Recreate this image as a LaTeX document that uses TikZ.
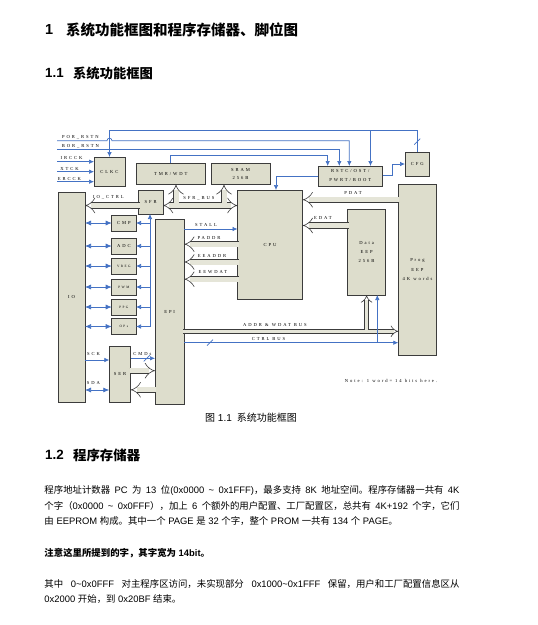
\documentclass[tikz,border=0pt]{standalone}
\usepackage{fontspec}
\setmainfont{Liberation Sans}
\newfontfamily\cjk{Noto Sans CJK SC}
\newfontfamily\dg[LetterSpace=42]{Liberation Serif}
\usetikzlibrary{arrows.meta}
\definecolor{boxfill}{RGB}{221,221,204}
\definecolor{busfill}{RGB}{229,229,216}
\definecolor{sigblue}{RGB}{68,114,196}
\definecolor{edge}{RGB}{60,60,60}
\newcommand\zh[1]{{\cjk #1}}
\begin{document}
\begin{tikzpicture}[x=1pt,y=-1pt,
  box/.style={draw=edge, line width=0.9pt, fill=boxfill, inner sep=0pt, outer sep=0pt, align=center, font=\dg\fontsize{4.6}{9}\selectfont},
  sbox/.style={box, font=\dg\fontsize{3.4}{4}\selectfont},
  lab/.style={inner sep=0pt, font=\dg\fontsize{4.6}{5}\selectfont},
  sig/.style={draw=sigblue, line width=0.7pt, -{Latex[length=5pt,width=4.5pt]}},
  sigboth/.style={draw=sigblue, line width=0.7pt, {Latex[length=6pt,width=5pt]}-{Latex[length=6pt,width=5pt]}},
  sigline/.style={draw=sigblue, line width=0.7pt},
  bus/.style={draw=edge, line width=0.6pt, double=busfill, double distance=5pt},
  thinbus/.style={draw=edge, line width=0.6pt, double=busfill, double distance=3.5pt},
  tip/.tip={Implies[scale=0.6]},
  txt/.style={inner sep=0pt, anchor=west}]
\useasboundingbox[fill=white] (0,0) rectangle (538,625);

% ---------- page text ----------
\node[txt, font=\fontsize{14.5}{16}\selectfont\bfseries] (h1n) at (45,30) {1};
\node[txt, font=\cjk\fontsize{14.5}{16}\selectfont\bfseries] (h1t) at (66,30) {系统功能框图和程序存储器、脚位图};
\node[txt, font=\fontsize{13.3}{15}\selectfont\bfseries] (h2n) at (45,73) {1.1};
\node[txt, font=\cjk\fontsize{13.3}{15}\selectfont\bfseries] (h2t) at (73,73) {系统功能框图};
\node[txt, font=\fontsize{10}{12}\selectfont] (cap) at (205,418) {\zh{图} 1.1\hspace{5pt}\zh{系统功能框图}};
\node[txt, font=\fontsize{13.4}{15}\selectfont\bfseries] (h3n) at (45,455) {1.2};
\node[txt, font=\cjk\fontsize{13.4}{15}\selectfont\bfseries] (h3t) at (73,455) {程序存储器};
\node[txt, font=\fontsize{9.4}{11}\selectfont] (p1) at (44.3,490) {\makebox[415pt][s]{\zh{程序地址计数器} PC \zh{为} 13 \zh{位}(0x0000 \textasciitilde{} 0x1FFF)\zh{，最多支持} 8K \zh{地址空间。程序存储器一共有} 4K}};
\node[txt, font=\fontsize{9.4}{11}\selectfont] (p2) at (44.3,506) {\makebox[415pt][s]{\zh{个字（}0x0000 \textasciitilde{} 0x0FFF\zh{），加上} 6 \zh{个额外的用户配置、工厂配置区，总共有} 4K+192 \zh{个字，它们}}};
\node[txt, font=\fontsize{9.4}{11}\selectfont] (p3) at (44.3,521) {\zh{由} EEPROM \zh{构成。其中一个} PAGE \zh{是} 32 \zh{个字，整个} PROM \zh{一共有} 134 \zh{个} PAGE\zh{。}};
\node[txt, font=\fontsize{9.4}{11}\selectfont\bfseries] (p4) at (44.3,553) {\zh{注意这里所提到的字，其字宽为} 14bit\zh{。}};
\node[txt, font=\fontsize{9.4}{11}\selectfont] (p5) at (44.3,584) {\makebox[415pt][s]{\zh{其中} 0\textasciitilde{}0x0FFF \zh{对主程序区访问，未实现部分} 0x1000\textasciitilde{}0x1FFF \zh{保留，用户和工厂配置信息区从}}};
\node[txt, font=\fontsize{9.4}{11}\selectfont] (p6) at (44.3,599.5) {0x2000 \zh{开始，到} 0x20BF \zh{结束。}};

% ---------- boxes ----------
\node[box, minimum width=31pt, minimum height=29pt] (CLKC) at (109.5,171.5) {CLKC};
\node[box, minimum width=69.7pt, minimum height=21pt] (TMR) at (170.85,173.8) {TMR/WDT};
\node[box, minimum width=59pt, minimum height=21pt, font=\dg\fontsize{4.6}{8}\selectfont] (SRAM) at (240.5,173.8) {SRAM\\256B};
\node[box, minimum width=64.5pt, minimum height=20pt] (RSTC) at (350.25,176) {RSTC/OST/\\PWRT/BOOT};
\node[box, minimum width=24.5pt, minimum height=24pt] (CFG) at (417.25,164) {CFG};
\node[box, minimum width=24.5pt, minimum height=24pt] (SFR) at (150.75,202) {SFR};
\node[box, minimum width=27pt, minimum height=210pt] (IO) at (71.5,297) {IO};
\node[box, minimum width=65.2pt, minimum height=109.3pt] (CPU) at (270.1,244.65) {CPU};
\node[box, minimum width=38.4pt, minimum height=171.7pt, font=\dg\fontsize{4.6}{9.5}\selectfont] (Prog) at (417.5,269.85) {Prog\\EEP\\4K words};
\node[box, minimum width=38.2pt, minimum height=85.7pt, font=\dg\fontsize{4.6}{8.8}\selectfont] (Data) at (366.6,252.15) {Data\\EEP\\256B};
\node[box, minimum width=29.3pt, minimum height=184.7pt] (EPI) at (169.65,311.65) {EPI};
\node[box, minimum width=24.3pt, minimum height=16pt] (CMP) at (123.85,223) {CMP};
\node[box, minimum width=24.3pt, minimum height=16pt] (ADC) at (123.85,246) {ADC};
\node[sbox, minimum width=24.3pt, minimum height=16pt] (VREG) at (123.85,266) {VREG};
\node[sbox, minimum width=24.3pt, minimum height=16pt] (PWM) at (123.85,287) {PWM};
\node[sbox, minimum width=24.3pt, minimum height=16pt] (PPG) at (123.85,307) {PPG};
\node[sbox, minimum width=24.3pt, minimum height=16pt] (OPs) at (123.85,326.5) {OPs};
\node[box, minimum width=21.4pt, minimum height=56.3pt] (SER) at (120,374.15) {SER};

% ---------- labels ----------
\node[lab] (lPOR) at (80.5,137) {POR\_RSTN};
\node[lab] (lBOR) at (80.5,146.3) {BOR\_RSTN};
\node[lab] (lIR) at (71.5,158) {IRCCK};
\node[lab] (lXT) at (69.5,168.5) {XTCK};
\node[lab] (lER) at (69.5,179) {ERCCK};
\node[lab] (lIOC) at (108.5,197.5) {IO\_CTRL};
\node[lab] (lSB) at (199,198) {SFR\_BUS};
\node[lab] (lPD) at (353,192.5) {PDAT};
\node[lab] (lED) at (323,217.5) {EDAT};
\node[lab] (lST) at (206,225) {STALL};
\node[lab] (lPA) at (209,238.3) {PADDR};
\node[lab] (lEA) at (212,256) {EEADDR};
\node[lab] (lEW) at (213,272) {EEWDAT};
\node[lab] (lSCK) at (93.5,353.5) {SCK};
\node[lab] (lSDA) at (93.5,383) {SDA};
\node[lab] (lCMD) at (142.5,353.5) {CMDs};
\node[lab] (lAD) at (275,325) {ADDR \& WDAT BUS};
\node[lab] (lCT) at (268.5,339) {CTRL BUS};
\node[lab] (lNote) at (391,381) {Note: 1 word= 14 bits here.};

% ---------- coordinates ----------
\coordinate (topY) at (0,130.7);
\coordinate (po1) at (57,140.7);
\coordinate (po2) at (349.3,140.7);
\coordinate (bo1) at (57,149.8);
\coordinate (bo2) at (339.3,149.8);
\coordinate (tm1) at (170,155);
\coordinate (tm2) at (327.7,155);
\coordinate (t4) at (370.5,130.7);
\coordinate (ir) at (57,161.7);
\coordinate (xt) at (57,171.7);
\coordinate (er) at (57,181.7);
\coordinate (rc1) at (392.7,175.5);
\coordinate (rp1) at (276,176);
\coordinate (ioc) at (0,205.5);
\coordinate (sb1) at (176,205.5);
\coordinate (sb2) at (224,205.5);
\coordinate (pd) at (0,199.7);
\coordinate (ed) at (0,225.5);
\coordinate (st) at (0,229);
\coordinate (pa) at (0,244.2);
\coordinate (ea) at (0,262);
\coordinate (ew) at (0,279.2);
\coordinate (vb) at (150,326.5);
\coordinate (sck) at (0,360);
\coordinate (sda) at (0,390);
\coordinate (cmd) at (0,358.3);
\coordinate (s1) at (0,370.7);
\coordinate (s2) at (0,389.8);
\coordinate (ad) at (0,331.3);
\coordinate (ct) at (0,342.7);
\coordinate (ctB) at (377.3,342.7);

% ---------- top control lines ----------
\draw[sig] (CFG.north) |- (CLKC.north|-topY) -- (CLKC.north);
\draw[sig] (t4) -- (t4|-RSTC.north);
\draw[sigline] (414.25,144.7) -- (420.25,138.7);
\draw[sig] (po1) -- (107,140.7) arc[start angle=180,end angle=360,radius=2.5] -- (po2) -- (po2|-RSTC.north);
\draw[sig] (bo1) -- (bo2) -- (bo2|-RSTC.north);
\draw[sig] (tm1|-TMR.north) -- (tm1) -- (tm2) -- (tm2|-RSTC.north);
\draw[sig] (ir) -- (ir-|CLKC.west);
\draw[sig] (xt) -- (xt-|CLKC.west);
\draw[sig] (er) -- (er-|CLKC.west);
\draw[sig] (RSTC.east|-rc1) -- (rc1) |- (CFG.west);
\draw[sig] (RSTC.west|-rp1) -- (rp1) -- (rp1|-CPU.north);

% ---------- buses ----------
\draw[bus, -tip, shorten <=-1pt] (SFR.west|-ioc) -- (IO.east|-ioc);
\draw[bus, -tip] (sb1) -- (sb1|-TMR.south);
\draw[bus, -tip] (sb2) -- (sb2|-SRAM.south);
\draw[bus, tip-tip] (SFR.east|-ioc) -- (CPU.west|-ioc);
\fill[busfill] (sb1) ++(-2.5,-3.4) rectangle ++(5,1.1);
\fill[busfill] (sb2) ++(-2.5,-3.4) rectangle ++(5,1.1);
\draw[bus, -tip, shorten <=-1pt] (Prog.west|-pd) -- (CPU.east|-pd);
\draw[bus, -tip, shorten <=-1pt] (Data.west|-ed) -- (CPU.east|-ed);
\draw[bus, -tip, shorten <=-1pt] (CPU.west|-pa) -- (EPI.east|-pa);
\draw[bus, -tip, shorten <=-1pt] (CPU.west|-ea) -- (EPI.east|-ea);
\draw[bus, -tip, shorten <=-1pt] (CPU.west|-ew) -- (EPI.east|-ew);
\draw[bus, -tip, shorten <=-1pt] (SER.east|-s1) -- (EPI.west|-s1);
\draw[bus, -tip, shorten <=-1pt] (EPI.west|-s2) -- (SER.east|-s2);
\draw[thinbus, -tip] (Data.south|-ad) -- (Data.south);
\draw[thinbus, -tip, shorten <=-1pt] (EPI.east|-ad) -- (Prog.west|-ad);
\fill[busfill] (Data.south|-ad) ++(-1.75,-2.6) rectangle ++(3.5,1.0);

% ---------- signals ----------
\draw[sig] (EPI.east|-st) -- (CPU.west|-st);
\draw[sig] (EPI.east|-ct) -- (Prog.west|-ct);
\draw[sigline] (207,345.7) -- (213,339.7);
\draw[sig] (ctB) -- (ctB|-Data.south);
\draw[sigboth] (IO.east|-CMP) -- (CMP.west);
\draw[sigboth] (IO.east|-ADC) -- (ADC.west);
\draw[sigboth] (IO.east|-VREG) -- (VREG.west);
\draw[sigboth] (IO.east|-PWM) -- (PWM.west);
\draw[sigboth] (IO.east|-PPG) -- (PPG.west);
\draw[sigboth] (IO.east|-OPs) -- (OPs.west);
\draw[sig] (vb) -- (vb|-SFR.south);
\draw[sig] (vb|-CMP) -- (CMP.east);
\draw[sig] (vb|-ADC) -- (ADC.east);
\draw[sig] (vb|-VREG) -- (VREG.east);
\draw[sig] (vb|-PWM) -- (PWM.east);
\draw[sig] (vb|-PPG) -- (PPG.east);
\draw[sig] (vb) -- (OPs.east);
\draw[sig] (IO.east|-sck) -- (SER.west|-sck);
\draw[sigboth] (IO.east|-sda) -- (SER.west|-sda);
\draw[sig] (SER.east|-cmd) -- (EPI.west|-cmd);
\draw[sigline] (143.7,361.3) -- (149.7,355.3);
\end{tikzpicture}
\end{document}
